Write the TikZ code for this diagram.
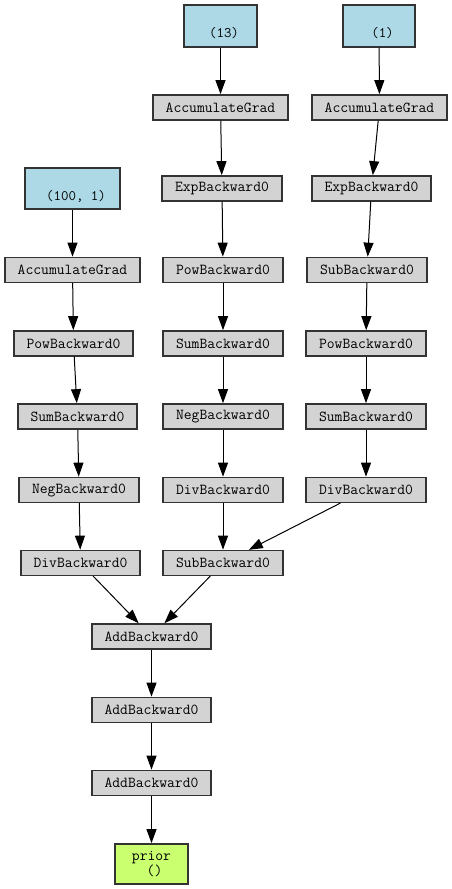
\documentclass[tikz,border=0pt]{standalone}
\usetikzlibrary{arrows.meta}
\definecolor{opgray}{HTML}{D3D3D3}
\definecolor{leafblue}{HTML}{ADD8E6}
\definecolor{outgreen}{HTML}{CAFF70}
\definecolor{edgegray}{HTML}{333333}
\tikzset{
  opbox/.style={draw=edgegray, line width=1.1pt, fill=opgray, minimum width=#1, minimum height=25pt, inner sep=0pt,
    font=\ttfamily\fontsize{15.2pt}{17pt}\selectfont},
  leafbox/.style={draw=edgegray, line width=1.1pt, fill=leafblue, minimum width=#1, minimum height=42pt, inner sep=0pt,
    font=\ttfamily\fontsize{14.5pt}{15pt}\selectfont},
  outbox/.style={draw=edgegray, line width=1.1pt, fill=outgreen, minimum width=73pt, minimum height=40pt, inner sep=0pt,
    font=\ttfamily\fontsize{15.2pt}{15pt}\selectfont, align=center},
  flow/.style={-{Triangle[length=14pt,width=10pt]}, line width=1pt, black, shorten >=0.3pt}
}
\newcommand{\leaftext}[1]{\raisebox{-11.5pt}[0pt][0pt]{\hspace*{7pt}#1}}
\begin{document}
\begin{tikzpicture}[x=1pt,y=-1pt]
\useasboundingbox (0,0) rectangle (452,889);
\fill[white] (0,0) rectangle (452,889);
% leaves
\node[leafbox=73pt] (t13) at (220.5,26) {\leaftext{(13)}};
\node[leafbox=72pt] (t1) at (379,26) {\leaftext{(1)}};
\node[leafbox=95pt, minimum height=41pt] (t100) at (72.5,188.5) {\leaftext{(100, 1)}};
% middle column
\node[opbox=135pt] (accm) at (220.5,107.5) {AccumulateGrad};
\node[opbox=120pt] (expm) at (222,188.5) {ExpBackward0};
\node[opbox=120pt] (powm) at (223,270) {PowBackward0};
\node[opbox=120pt] (summ) at (223,343.5) {SumBackward0};
\node[opbox=120pt] (negm) at (223,416.5) {NegBackward0};
\node[opbox=120pt] (divm) at (223,490) {DivBackward0};
\node[opbox=120pt] (subm) at (223,563) {SubBackward0};
% right column
\node[opbox=135pt] (accr) at (379.5,107.5) {AccumulateGrad};
\node[opbox=119pt] (expr) at (371.5,188.5) {ExpBackward0};
\node[opbox=120pt] (subr) at (367,270) {SubBackward0};
\node[opbox=120pt] (powr) at (366,343.5) {PowBackward0};
\node[opbox=120pt] (sumr) at (366,416.5) {SumBackward0};
\node[opbox=120pt] (divr) at (366,490) {DivBackward0};
% left column
\node[opbox=135pt] (accl) at (72.5,270) {AccumulateGrad};
\node[opbox=119pt] (powl) at (73.5,343.5) {PowBackward0};
\node[opbox=119pt] (suml) at (77.5,416.5) {SumBackward0};
\node[opbox=120pt] (negl) at (79,490) {NegBackward0};
\node[opbox=119pt] (divl) at (80.5,563) {DivBackward0};
% bottom
\node[opbox=119pt] (add1) at (151.5,636.5) {AddBackward0};
\node[opbox=119pt] (add2) at (151.5,710) {AddBackward0};
\node[opbox=119pt] (add3) at (151.5,783) {AddBackward0};
\node[outbox] (prior) at (151.5,864) {prior\\\hspace*{6pt}()};
% edges
\draw[flow] (t13) -- (accm);
\draw[flow] (accm) -- (expm);
\draw[flow] (expm) -- (powm);
\draw[flow] (powm) -- (summ);
\draw[flow] (summ) -- (negm);
\draw[flow] (negm) -- (divm);
\draw[flow] (divm) -- (subm);
\draw[flow] (t1) -- (accr);
\draw[flow] (accr) -- (expr);
\draw[flow] (expr) -- (subr);
\draw[flow] (subr) -- (powr);
\draw[flow] (powr) -- (sumr);
\draw[flow] (sumr) -- (divr);
\draw[flow] (divr) -- (subm);
\draw[flow] (t100) -- (accl);
\draw[flow] (accl) -- (powl);
\draw[flow] (powl) -- (suml);
\draw[flow] (suml) -- (negl);
\draw[flow] (negl) -- (divl);
\draw[flow] (divl) -- (add1);
\draw[flow] (subm) -- (add1);
\draw[flow] (add1) -- (add2);
\draw[flow] (add2) -- (add3);
\draw[flow] (add3) -- (prior);
\end{tikzpicture}
\end{document}
